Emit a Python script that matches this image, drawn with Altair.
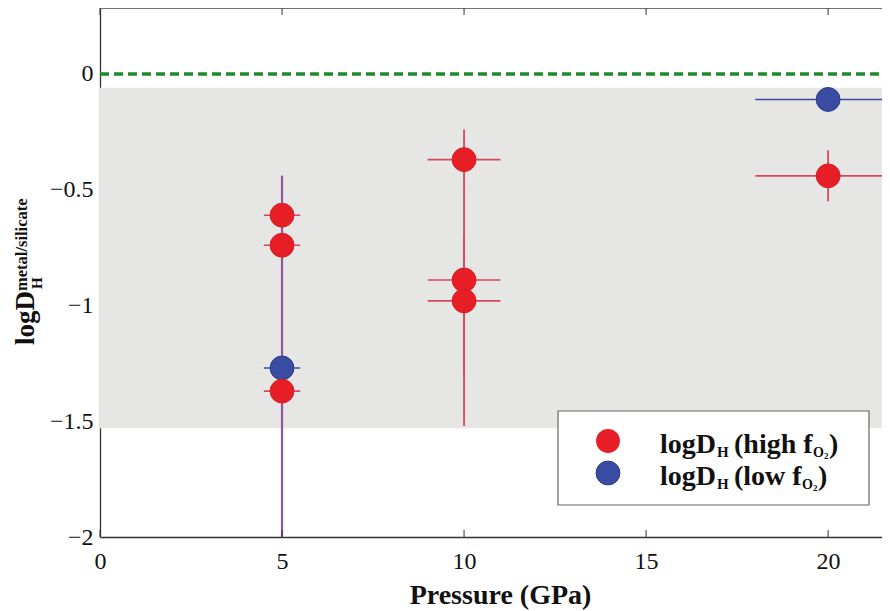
import altair as alt
import pandas as pd

# ---------------- data ----------------
series = ["high", "high", "low", "high", "high", "high", "high", "low", "high"]
pressure = [5, 5, 5, 5, 10, 10, 10, 20, 20]
logD = [-0.61, -0.74, -1.27, -1.37, -0.37, -0.89, -0.98, -0.11, -0.44]
p_lo = [4.5, 4.5, 4.5, 4.5, 9.0, 9.0, 9.0, 18.0, 18.0]
p_hi = [5.5, 5.5, 5.5, 5.5, 11.0, 11.0, 11.0, 23.0, 23.0]
d_lo = [-0.78, -0.88, -2.05, -2.05, -0.50, -1.52, -1.30, -0.11, -0.55]
d_hi = [-0.44, -0.60, -0.44, -0.75, -0.24, -0.50, -0.70, -0.11, -0.33]
band_lo = [-1.53]
band_hi = [-0.06]
ref_line = [0]
x_ticks = [0, 5, 10, 15, 20]
y_ticks = [0, -0.5, -1, -1.5, -2]

df = pd.DataFrame(dict(series=series, pressure=pressure, logD=logD,
                       p_lo=p_lo, p_hi=p_hi, d_lo=d_lo, d_hi=d_hi))
band_df = pd.DataFrame(dict(lo=band_lo, hi=band_hi))
ref_df = pd.DataFrame(dict(v=ref_line))
tick_df = pd.DataFrame(dict(t=x_ticks))
one = pd.DataFrame(dict(a=[0]))

# ---------------- layout ----------------
W, H = 782, 529
FONT = "Liberation Serif, Times New Roman, serif"
RED, BLUE = "#e81e26", "#3a4ca2"
RED_BAR, BLUE_BAR, PURPLE_BAR = "#d8485a", "#3d4aa8", "#92589e"

xscale = alt.Scale(domain=[0, 21.48], nice=False, zero=False)
yscale = alt.Scale(domain=[-2, 0.285], nice=False, zero=False)
xaxis = alt.Axis(values=x_ticks, title="Pressure (GPa)", tickSize=0, labelPadding=12,
                 labelFlush=False, labelOverlap=False,
                 labelFontSize=24, labelFont=FONT, labelColor="#111", grid=False,
                 domainColor="#333", domainWidth=1.3, titleFont=FONT, titleFontSize=28,
                 titleFontWeight="bold", titleColor="#111", titleX=400, titleY=66,
                 titleBaseline="alphabetic", titleAnchor="middle")
yaxis = alt.Axis(values=y_ticks, title=None, tickSize=0, labelPadding=7,
                 labelFlush=False, labelOverlap=False,
                 labelFontSize=24, labelFont=FONT, labelColor="#111", grid=False,
                 domainColor="#333", domainWidth=1.3,
                 labelExpr="replace(format(datum.value, '~g'), '-', '\u2212')")

def X(f):
    return alt.X(f, scale=xscale, axis=xaxis)

def Y(f):
    return alt.Y(f, scale=yscale, axis=yaxis)

band = alt.Chart(band_df).mark_rect(color="#e6e6e4").encode(
    x=alt.value(0), x2=alt.value(W), y=Y("hi:Q"), y2="lo:Q")

zero = alt.Chart(ref_df).mark_rule(color="#1d8a2e", strokeWidth=3.5, strokeDash=[9, 5]).encode(
    y=Y("v:Q"), x=alt.value(0), x2=alt.value(W))

bar_scale = alt.Scale(domain=["high", "low"], range=[RED_BAR, BLUE_BAR])
hbars = alt.Chart(df).mark_rule(strokeWidth=1.6, clip=True).encode(
    x=X("p_lo:Q"), x2="p_hi:Q", y=Y("logD:Q"),
    color=alt.Color("series:N", scale=bar_scale, legend=None))
vbars_high = alt.Chart(df).transform_filter("datum.series == 'high'").mark_rule(
    strokeWidth=1.8, clip=True, color=RED_BAR).encode(
    x=X("pressure:Q"), y=Y("d_lo:Q"), y2="d_hi:Q")
vbars_low = alt.Chart(df).transform_filter("datum.series == 'low'").mark_rule(
    strokeWidth=2.2, clip=True, color=PURPLE_BAR).encode(
    x=X("pressure:Q"), y=Y("d_lo:Q"), y2="d_hi:Q")

pts_low = alt.Chart(df).transform_filter("datum.series == 'low'").mark_circle(
    size=570, opacity=1, color=BLUE, stroke="#2c3a8c", strokeWidth=1).encode(
    x=X("pressure:Q"), y=Y("logD:Q"))
pts_high = alt.Chart(df).transform_filter("datum.series == 'high'").mark_circle(
    size=570, opacity=1, color=RED, stroke="#d0202a", strokeWidth=1).encode(
    x=X("pressure:Q"), y=Y("logD:Q"))

top_border = alt.Chart(one).mark_rule(color="#444", strokeWidth=1.3).encode(
    x=alt.value(0), x2=alt.value(W), y=alt.value(0))
ticks_bottom = alt.Chart(tick_df).mark_rule(color="#333", strokeWidth=1).encode(
    x=X("t:Q"), y=alt.value(H), y2=alt.value(H - 7))
ticks_top = alt.Chart(tick_df).mark_rule(color="#333", strokeWidth=1).encode(
    x=X("t:Q"), y=alt.value(0), y2=alt.value(7))

# legend box
leg_box = alt.Chart(one).mark_rect(fill="white", stroke="#666", strokeWidth=1.2).encode(
    x=alt.value(458), x2=alt.value(769), y=alt.value(403), y2=alt.value(497))
leg_red = alt.Chart(one).mark_circle(size=570, opacity=1, color=RED).encode(
    x=alt.value(508), y=alt.value(433))
leg_blue = alt.Chart(one).mark_circle(size=570, opacity=1, color=BLUE, stroke="#2c3a8c",
                                      strokeWidth=1).encode(x=alt.value(508), y=alt.value(465))

# text pieces: (text, x, y, size, angle)
pieces = [
    ("logD", 560, 445, 28, 0), ("H", 617, 449, 15, 0), ("(high f", 634, 445, 28, 0),
    ("O", 713, 449, 14, 0), ("2", 724, 451, 9, 0), (")", 729, 445, 28, 0),
    ("logD", 560, 477, 28, 0), ("H", 617, 481, 15, 0), ("(low f", 634, 477, 28, 0),
    ("O", 702, 481, 14, 0), ("2", 713, 483, 9, 0), (")", 718, 477, 28, 0),
    ("logD", -66, 337, 27, 270), ("H", -58, 281, 15, 270),
    ("metal/silicate", -73, 283, 16.5, 270),
]
texts = []
for t, px, py, sz, ang in pieces:
    texts.append(alt.Chart(one).mark_text(
        text=t, font=FONT, fontWeight="bold", fontSize=sz, color="#111",
        align="left", baseline="alphabetic", angle=ang).encode(
        x=alt.value(px), y=alt.value(py)))

chart = alt.layer(
    band, zero, hbars, vbars_high, vbars_low, pts_low, pts_high, top_border,
    ticks_bottom, ticks_top, leg_box, leg_red, leg_blue, *texts
).properties(
    width=W, height=H,
    autosize=alt.AutoSizeParams(type="none"),
    padding={"left": 92, "top": 0, "right": 0, "bottom": 74},
).configure_view(stroke=None)

chart.save("out.html", embed_options={"renderer": "svg", "actions": False})
